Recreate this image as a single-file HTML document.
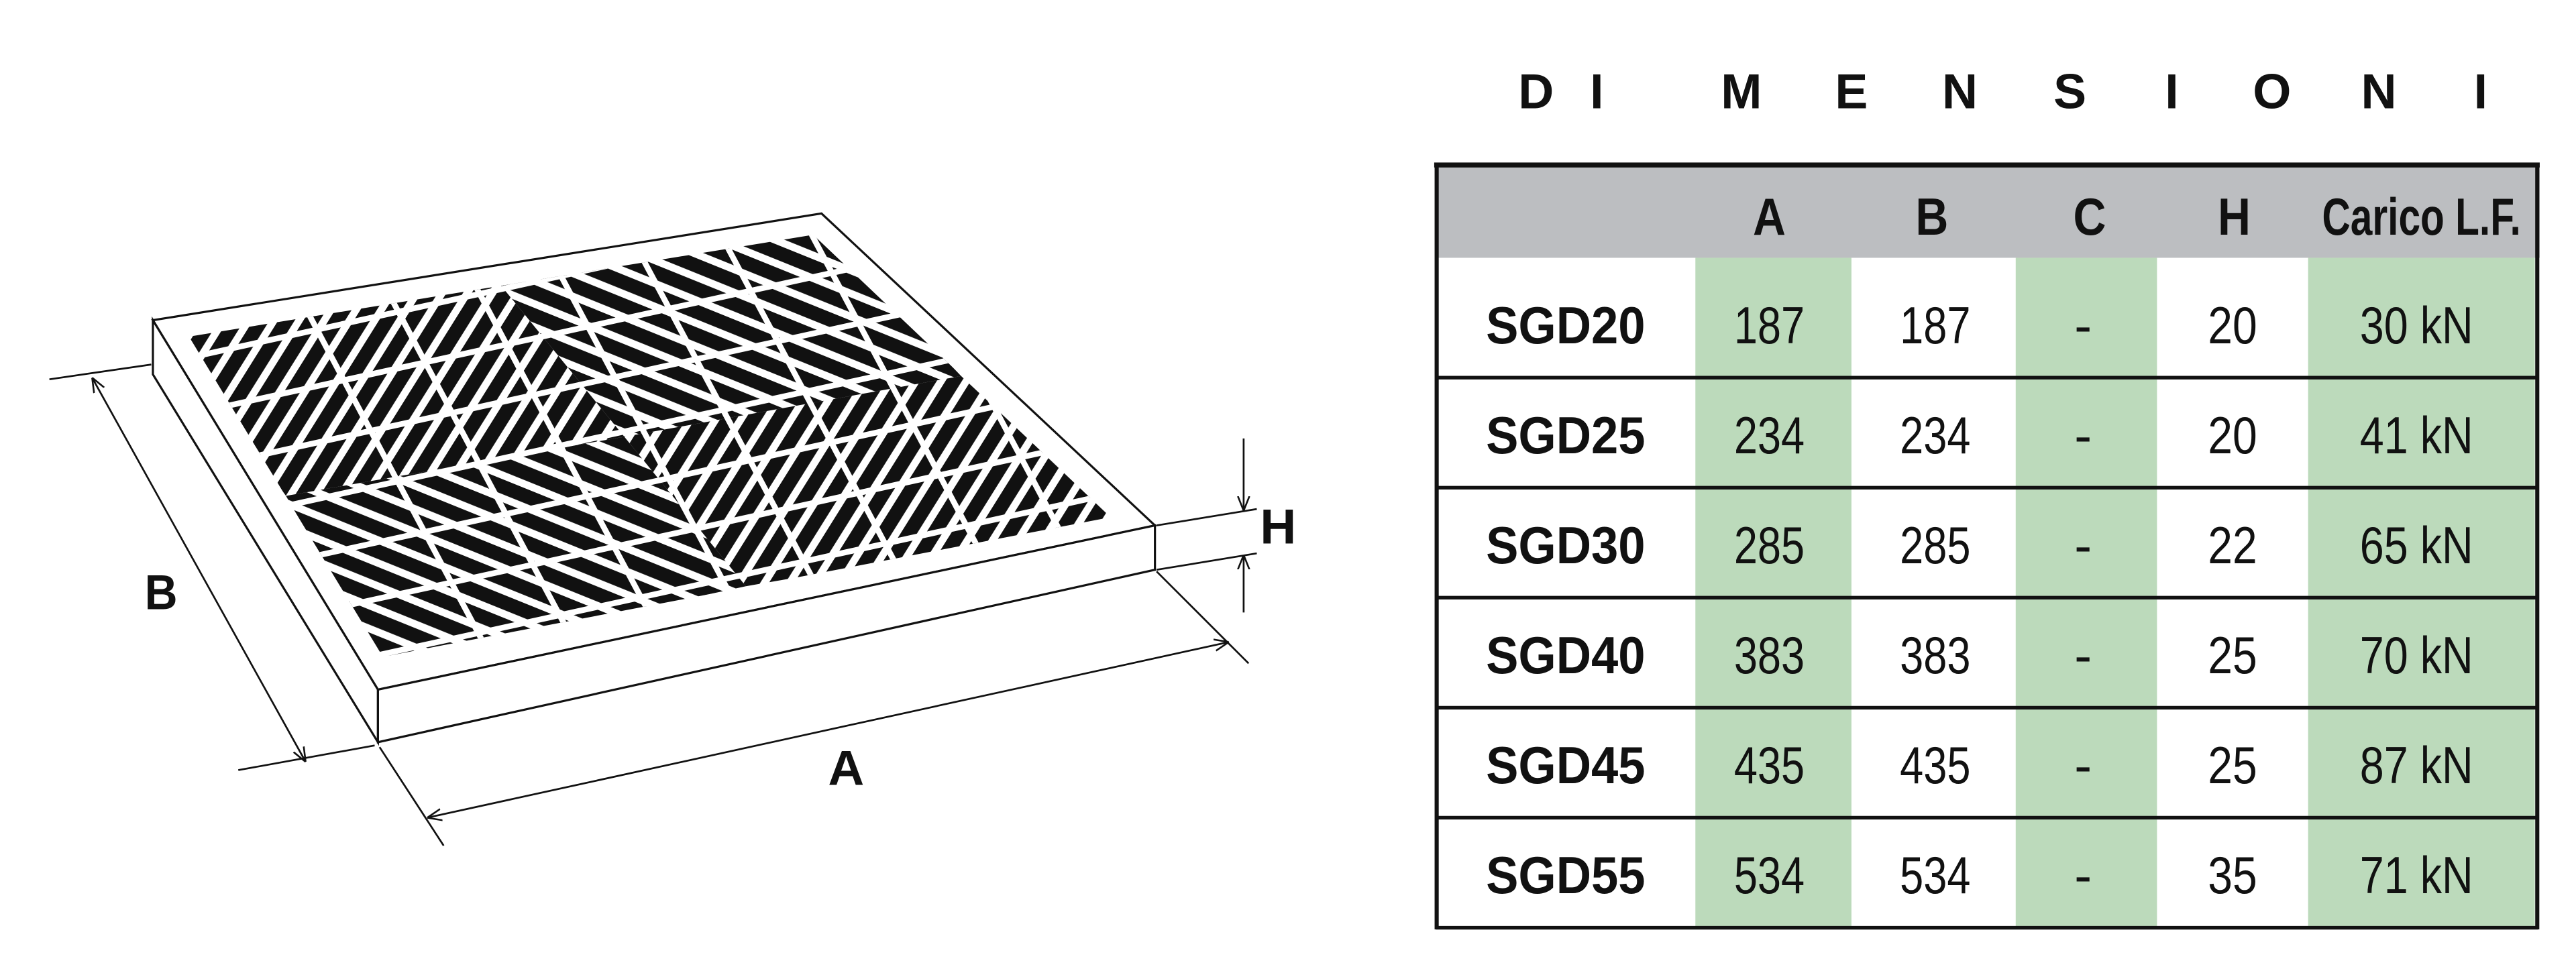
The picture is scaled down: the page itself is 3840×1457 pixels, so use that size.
<!DOCTYPE html>
<html><head><meta charset="utf-8"><style>html,body{margin:0;padding:0;background:#fff}svg{display:block}</style></head>
<body>
<svg width="3840" height="1457" viewBox="0 0 1568 595" xmlns="http://www.w3.org/2000/svg" font-family="Liberation Sans, sans-serif">
<defs>
<pattern id="steep" width="13" height="13" patternUnits="userSpaceOnUse" patternTransform="rotate(-58)">
<rect x="0" y="0" width="13" height="8.5" fill="#111"/>
</pattern>
<pattern id="shallow" width="13" height="13" patternUnits="userSpaceOnUse" patternTransform="rotate(22)">
<rect x="0" y="0" width="13" height="8.5" fill="#111"/>
</pattern>
<clipPath id="inner"><polygon points="115,205 495,143 676,315 233,400"/></clipPath>
<marker id="ar" viewBox="0 0 10 10" refX="10" refY="5" markerWidth="8" markerHeight="8" orient="auto-start-reverse"><path d="M0,1 L10,5 L0,9" fill="none" stroke="#111" stroke-width="1.2"/></marker>
</defs>
<polygon points="93,195 500,130 703,320 230,420" fill="#fff" stroke="#111" stroke-width="1.3"/>
<polygon points="93,195 230,420 230,452 93,228" fill="#fff" stroke="#111" stroke-width="1.3"/>
<polygon points="230,420 703,320 703,347 230,452" fill="#fff" stroke="#111" stroke-width="1.3"/>
<g clip-path="url(#inner)">
<polygon points="100,200 305,174 380,266 174,302" fill="url(#steep)"/>
<polygon points="305,174 500,140 585,229 380,266" fill="url(#shallow)"/>
<polygon points="174,302 380,266 454,357 233,405" fill="url(#shallow)"/>
<polygon points="380,266 585,229 680,318 454,357" fill="url(#steep)"/>
<g stroke="#fff" stroke-width="3.5">
<path d="M60,230 L560,120 M80,260 L580,150 M100,290 L600,180 M120,320 L620,210 M140,350 L640,240 M160,380 L660,270 M180,410 L680,300 M200,440 L700,330"/>
<path d="M150,120 L320,440 M200,110 L370,430 M250,100 L420,420 M300,90 L470,410 M350,80 L520,400 M400,70 L570,390 M450,60 L620,380 M500,50 L670,370"/>
</g>
</g>
<g stroke="#111" stroke-width="1.1" fill="none">
<line x1="30" y1="231" x2="92" y2="222"/>
<line x1="145" y1="469" x2="228" y2="454"/>
<line x1="56" y1="230" x2="186" y2="464" marker-start="url(#ar)" marker-end="url(#ar)"/>
<line x1="231" y1="455" x2="270" y2="515"/>
<line x1="704" y1="348" x2="760" y2="404"/>
<line x1="260" y1="498" x2="748" y2="391" marker-start="url(#ar)" marker-end="url(#ar)"/>
<line x1="704" y1="320" x2="765" y2="310"/>
<line x1="704" y1="347" x2="765" y2="337"/>
<line x1="757" y1="267" x2="757" y2="311" marker-end="url(#ar)"/>
<line x1="757" y1="373" x2="757" y2="338" marker-end="url(#ar)"/>
</g>
<g font-weight="bold" font-size="30" fill="#111">
<text x="88" y="371" textLength="20" lengthAdjust="spacingAndGlyphs">B</text>
<text x="504" y="478" textLength="22" lengthAdjust="spacingAndGlyphs">A</text>
<text x="767" y="331" textLength="22" lengthAdjust="spacingAndGlyphs">H</text>
</g>
<g font-weight="bold" font-size="30" fill="#111" text-anchor="middle">
<text x="935" y="66">D</text><text x="972" y="66">I</text><text x="1060" y="66">M</text><text x="1127" y="66">E</text><text x="1193" y="66">N</text><text x="1260" y="66">S</text><text x="1322" y="66">I</text><text x="1383" y="66">O</text><text x="1448" y="66">N</text><text x="1510" y="66">I</text>
</g>
<rect x="874" y="101" width="672" height="56" fill="#bcbec1"/>
<rect x="1032" y="157" width="95" height="408" fill="#bcdabb"/>
<rect x="1227" y="157" width="86" height="408" fill="#bcdabb"/>
<rect x="1405" y="157" width="138" height="408" fill="#bcdabb"/>
<g stroke="#111" fill="none">
<line x1="873" y1="100.5" x2="1546" y2="100.5" stroke-width="3"/>
<line x1="874.5" y1="100" x2="874.5" y2="566" stroke-width="2.5"/>
<line x1="1544.5" y1="100" x2="1544.5" y2="566" stroke-width="2.5"/>
<g stroke-width="2.2">
<line x1="874" y1="230" x2="1545" y2="230"/>
<line x1="874" y1="297" x2="1545" y2="297"/>
<line x1="874" y1="364" x2="1545" y2="364"/>
<line x1="874" y1="431" x2="1545" y2="431"/>
<line x1="874" y1="498" x2="1545" y2="498"/>
<line x1="874" y1="565" x2="1545" y2="565"/>
</g>
</g>
<g font-size="32" fill="#111" text-anchor="middle" font-weight="bold">
<text x="1077" y="143" textLength="20" lengthAdjust="spacingAndGlyphs">A</text>
<text x="1176" y="143" textLength="20" lengthAdjust="spacingAndGlyphs">B</text>
<text x="1272" y="143" textLength="20" lengthAdjust="spacingAndGlyphs">C</text>
<text x="1360" y="143" textLength="20" lengthAdjust="spacingAndGlyphs">H</text>
<text x="1474" y="143" textLength="121" lengthAdjust="spacingAndGlyphs">Carico L.F.</text>
</g>
<g font-size="32" fill="#111" text-anchor="middle">
<g font-weight="bold">
<text x="953" y="209" textLength="97" lengthAdjust="spacingAndGlyphs">SGD20</text>
<text x="953" y="276" textLength="97" lengthAdjust="spacingAndGlyphs">SGD25</text>
<text x="953" y="343" textLength="97" lengthAdjust="spacingAndGlyphs">SGD30</text>
<text x="953" y="410" textLength="97" lengthAdjust="spacingAndGlyphs">SGD40</text>
<text x="953" y="477" textLength="97" lengthAdjust="spacingAndGlyphs">SGD45</text>
<text x="953" y="544" textLength="97" lengthAdjust="spacingAndGlyphs">SGD55</text>
</g>
<g>
<text x="1077" y="209" textLength="43" lengthAdjust="spacingAndGlyphs">187</text>
<text x="1178" y="209" textLength="43" lengthAdjust="spacingAndGlyphs">187</text>
<text x="1268" y="209">-</text>
<text x="1359" y="209" textLength="30" lengthAdjust="spacingAndGlyphs">20</text>
<text x="1471" y="209" textLength="69" lengthAdjust="spacingAndGlyphs">30 kN</text>
<text x="1077" y="276" textLength="43" lengthAdjust="spacingAndGlyphs">234</text>
<text x="1178" y="276" textLength="43" lengthAdjust="spacingAndGlyphs">234</text>
<text x="1268" y="276">-</text>
<text x="1359" y="276" textLength="30" lengthAdjust="spacingAndGlyphs">20</text>
<text x="1471" y="276" textLength="69" lengthAdjust="spacingAndGlyphs">41 kN</text>
<text x="1077" y="343" textLength="43" lengthAdjust="spacingAndGlyphs">285</text>
<text x="1178" y="343" textLength="43" lengthAdjust="spacingAndGlyphs">285</text>
<text x="1268" y="343">-</text>
<text x="1359" y="343" textLength="30" lengthAdjust="spacingAndGlyphs">22</text>
<text x="1471" y="343" textLength="69" lengthAdjust="spacingAndGlyphs">65 kN</text>
<text x="1077" y="410" textLength="43" lengthAdjust="spacingAndGlyphs">383</text>
<text x="1178" y="410" textLength="43" lengthAdjust="spacingAndGlyphs">383</text>
<text x="1268" y="410">-</text>
<text x="1359" y="410" textLength="30" lengthAdjust="spacingAndGlyphs">25</text>
<text x="1471" y="410" textLength="69" lengthAdjust="spacingAndGlyphs">70 kN</text>
<text x="1077" y="477" textLength="43" lengthAdjust="spacingAndGlyphs">435</text>
<text x="1178" y="477" textLength="43" lengthAdjust="spacingAndGlyphs">435</text>
<text x="1268" y="477">-</text>
<text x="1359" y="477" textLength="30" lengthAdjust="spacingAndGlyphs">25</text>
<text x="1471" y="477" textLength="69" lengthAdjust="spacingAndGlyphs">87 kN</text>
<text x="1077" y="544" textLength="43" lengthAdjust="spacingAndGlyphs">534</text>
<text x="1178" y="544" textLength="43" lengthAdjust="spacingAndGlyphs">534</text>
<text x="1268" y="544">-</text>
<text x="1359" y="544" textLength="30" lengthAdjust="spacingAndGlyphs">35</text>
<text x="1471" y="544" textLength="69" lengthAdjust="spacingAndGlyphs">71 kN</text>
</g>
</g>
</svg>
</body></html>
